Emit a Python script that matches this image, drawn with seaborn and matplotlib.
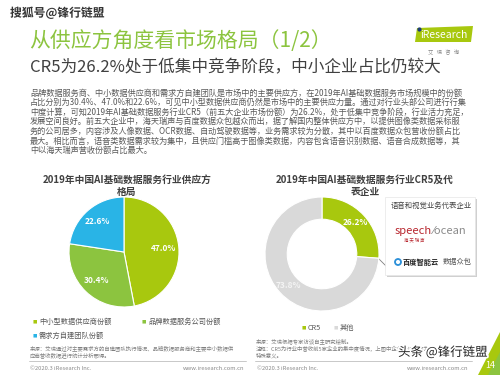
import matplotlib
matplotlib.use("Agg")
import matplotlib.pyplot as plt
from matplotlib.patches import FancyBboxPatch, Polygon, Circle
import matplotlib.patheffects as pe
import seaborn as sns

# ---- data ----
supply_labels = ['中小型数据供应商份额', '品牌数据服务公司份额', '需求方自建团队份额']
supply_share = [47.0, 30.4, 22.6]
cr5_labels = ['CR5', '其他']
cr5_share = [26.2, 73.8]

title = '从供应方角度看市场格局（1/2）'
subtitle = 'CR5为26.2%处于低集中竞争阶段，中小企业占比仍较大'
body_lines = [
    '品牌数据服务商、中小数据供应商和需求方自建团队是市场中的主要供应方，在2019年AI基础数据服务市场规模中的份额',
    '占比分别为30.4%、47.0%和22.6%，可见中小型数据供应商仍然是市场中的主要供应力量。通过对行业头部公司进行行集',
    '中度计算，可知2019年AI基础数据服务行业CR5（前五大企业市场份额）为26.2%，处于低集中竞争阶段，行业活力充足，',
    '发展空间良好。前五大企业中，海天瑞声与百度数据众包越众而出，据了解国内整体供应方中，以提供图像类数据采标服',
    '务的公司居多，内容涉及人像数据、OCR数据、自动驾驶数据等，业务需求较为分散，其中以百度数据众包营收份额占比',
    '最大。相比而言，语音类数据需求较为集中，且供应门槛高于图像类数据，内容包含语音识别数据、语音合成数据等，其',
    '中以海天瑞声营收份额占比最大。',
]
left_title = '2019年中国AI基础数据服务行业供应方\n格局'
right_title = '2019年中国AI基础数据服务行业CR5及代\n表企业'
left_source = ['来源：艾瑞通过对主要需求方的自建团队执行情况、品牌数据服务商和主要中小数据供',
               '应商营收数据进行统计分析而得。']
right_source = ['来源：艾瑞根据专家访谈自主研究绘制。',
                '注释：CR5为行业中营收前5家企业的集中度情况，上图中企业标识顺序为随机顺序无关',
                '特殊意义。']

supply_colors = ['#a8c80e', '#8cc43f', '#29b4e6']
cr5_colors = ['#a8c80e', '#d9d9d9']

sns.set_theme(style='white')
plt.rcParams['font.family'] = ['Noto Sans CJK SC', 'DejaVu Sans']

W, H = 500, 375
fig = plt.figure(figsize=(5, 3.75), dpi=100)
fig.patch.set_facecolor('white')

# background axes in pixel coordinates
ax0 = fig.add_axes([0, 0, 1, 1])
ax0.set_xlim(0, W)
ax0.set_ylim(H, 0)
ax0.axis('off')

def pie_axes(cx, cy, r):
    return fig.add_axes([(cx - r) / W, (H - cy - r) / H, 2 * r / W, 2 * r / H])

gray = '#595959'
white_edge = [pe.withStroke(linewidth=2, foreground='white')]

# watermark + headings
ax0.text(10, 13, '搜狐号@锋行链盟', fontsize=8.5, fontweight='bold', color='#333333',
         va='center', ha='left', path_effects=white_edge)
ax0.text(29, 41, title, fontsize=15, color='#8cc43f', va='center', ha='left')
ax0.text(30, 68, subtitle, fontsize=12, color='#404040', va='center', ha='left')

# iResearch logo
ax0.add_patch(Polygon([[417, 28], [473, 26], [471, 42], [415, 42]], closed=True,
                      color='#a8c80e', lw=0))
ax0.text(420, 34.5, 'iResearch', fontsize=7.5, color='white', va='center', ha='left')
ax0.add_patch(Circle((419.5, 29.5), 1.4, color='#1d3c78'))
ax0.text(444, 52, '艾   瑞   咨   询', fontsize=3.8, color='#888888', va='center', ha='center')

# body paragraph
for i, line in enumerate(body_lines):
    ax0.text(30, 93 + i * 9.6, line, fontsize=5.9, color=gray, va='center', ha='left')

# chart titles
ax0.text(127, 186, left_title, fontsize=7, fontweight='bold', color='#404040',
         va='center', ha='center', linespacing=1.2)
ax0.text(365, 186, right_title, fontsize=7, fontweight='bold', color='#404040',
         va='center', ha='center', linespacing=1.2)

# left pie
axL = pie_axes(124, 252, 55)
axL.pie(supply_share, colors=supply_colors, startangle=90, counterclock=False,
        autopct='%.1f%%', pctdistance=0.73,
        wedgeprops=dict(edgecolor='white', linewidth=0.8),
        textprops=dict(color='white', fontsize=6, fontweight='bold'))
axL.set_xlim(-1, 1)
axL.set_ylim(-1, 1)

# right donut
axR = pie_axes(322, 254, 57)
wedges, _, auto = axR.pie(cr5_share, colors=cr5_colors, startangle=90, counterclock=False,
                          autopct='%.1f%%', pctdistance=0.81,
                          wedgeprops=dict(width=0.39, edgecolor='white', linewidth=0.8),
                          textprops=dict(color='white', fontsize=6, fontweight='bold'))
auto[1].set_color('#f4f4f4')
axR.set_xlim(-1, 1)
axR.set_ylim(-1, 1)

# callout box with company logos
ax0.plot([369, 388], [249, 268], color='#7f7f7f', lw=0.6)
ax0.add_patch(FancyBboxPatch((387, 199), 90, 78, boxstyle='square,pad=0',
                             fc='#d0d0d0', ec='none', zorder=2))
ax0.add_patch(FancyBboxPatch((385, 197), 90, 78, boxstyle='square,pad=0',
                             fc='white', ec='#e6e6e6', lw=0.5, zorder=3))
ax0.text(431, 206, '语音和视觉业务代表企业', fontsize=5.3, color='#404040',
         va='center', ha='center', zorder=4)
ax0.text(395, 231, 'speech', fontsize=8, color='#b8262e', va='center', ha='left', zorder=4)
ax0.text(432, 231, '⁄ocean', fontsize=8, color='#8a8a8a', va='center', ha='left', zorder=4)
ax0.text(404, 239.5, '海 天 瑞 声', fontsize=3.2, color='#b8262e', va='center', ha='left', zorder=4)
ax0.add_patch(Circle((398, 262), 3.0, fill=False, ec='#2a8fd8', lw=1.3, zorder=4))
ax0.text(403, 262, '百度智能云', fontsize=5.2, fontweight='bold', color='#222222',
         va='center', ha='left', zorder=4)
ax0.text(443, 262, '数据众包', fontsize=5.2, color='#555555', va='center', ha='left', zorder=4)

# legends
lx = [[33, 322], [142, 322], [33, 336]]
for (x, y), lab, c in zip(lx, supply_labels, supply_colors):
    ax0.text(x, y, '■', fontsize=3.2, color=c, va='center', ha='left')
    ax0.text(x + 6, y, lab, fontsize=5.2, color=gray, va='center', ha='left')
rx = [[302, 328], [334, 328]]
for (x, y), lab, c in zip(rx, cr5_labels, cr5_colors):
    ax0.text(x, y, '■', fontsize=3.2, color=c, va='center', ha='left')
    ax0.text(x + 6, y, lab, fontsize=5.2, color=gray, va='center', ha='left')

# sources and footers
for i, line in enumerate(left_source):
    ax0.text(30, 348 + i * 7.5, line, fontsize=3.9, color='#7f7f7f', va='center', ha='left')
for i, line in enumerate(right_source):
    ax0.text(256, 341 + i * 7.5, line, fontsize=3.9, color='#7f7f7f', va='center', ha='left')
ax0.plot([29, 246], [361, 361], color='#bfbfbf', lw=0.6)
ax0.plot([255, 472], [361, 361], color='#bfbfbf', lw=0.6)
ax0.text(30, 368, '©2020.3 iResearch Inc.', fontsize=4.2, color='#8a8a8a', va='center', ha='left')
ax0.text(244, 368, 'www.iresearch.com.cn', fontsize=4.2, color='#8a8a8a', va='center', ha='right')
ax0.text(257, 368, '©2020.3 iResearch Inc.', fontsize=4.2, color='#8a8a8a', va='center', ha='left')
ax0.text(468, 368, 'www.iresearch.com.cn', fontsize=4.2, color='#8a8a8a', va='center', ha='right')

# page corner
ax0.add_patch(Polygon([[478, 375], [500, 375], [500, 332]], closed=True, color='#a8c80e', lw=0))
ax0.add_patch(Polygon([[488, 375], [500, 375], [500, 352]], closed=True, color='#8cc43f', lw=0))
ax0.text(490, 366, '14', fontsize=6.5, color='white', va='center', ha='center')

# bottom-right watermark
ax0.text(398, 352, '头条 @锋行链盟', fontsize=9, color='#222222', va='center', ha='left',
         path_effects=[pe.withStroke(linewidth=2.5, foreground='white')])

fig.savefig('out.png', dpi=100)
